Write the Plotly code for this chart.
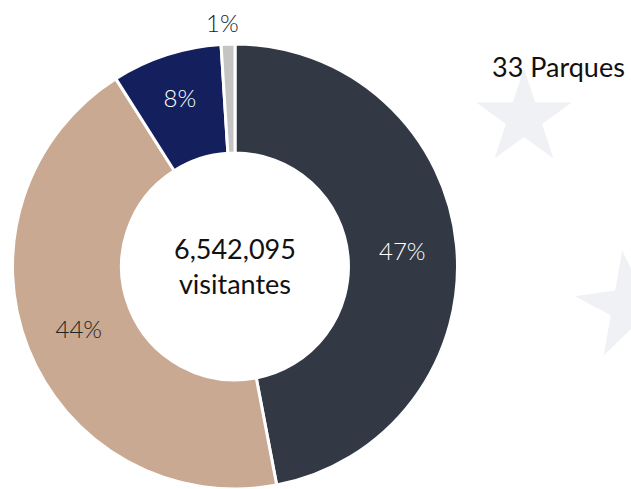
import math
import plotly.graph_objects as go

segmentos = ['Segmento A', 'Segmento B', 'Segmento C', 'Segmento D']
porcentajes = [47, 44, 8, 1]
colores = ['#323945', '#c9a992', '#14205e', '#c4c4c4']
texto_color = ['white', '#222222', 'white', '#222222']
total_visitantes = '6,542,095'
parques = 33

W, H = 631, 489


def px(x, y):
    return x / W, 1 - y / H


def star_path(cx, cy, r, rot=0.0):
    pts = []
    for i in range(10):
        rr = r if i % 2 == 0 else r * 0.382
        a = math.radians(90 + rot + i * 36)
        x, y = px(cx + rr * math.cos(a), cy - rr * math.sin(a))
        pts.append(f'{x:.4f},{y:.4f}')
    return 'M' + ' L'.join(pts) + ' Z'


fig = go.Figure()

x0, y_top = px(235 - 224, 268 - 224)
x1, _ = px(235 + 224, 0)
fig.add_trace(go.Pie(
    labels=segmentos,
    values=porcentajes,
    hole=0.51,
    sort=False,
    direction='clockwise',
    rotation=0,
    marker=dict(colors=colores, line=dict(color='white', width=3)),
    texttemplate='%{percent:.0%}',
    textposition=['inside', 'inside', 'inside', 'none'],
    insidetextorientation='horizontal',
    textfont=dict(family='Lato', size=24, weight=300, color=texto_color),
    showlegend=False,
    domain=dict(x=[x0, x1], y=[0, y_top]),
))

# the thin slice gets its label above the ring
lx, ly = px(222, 22)
fig.add_annotation(
    x=lx, y=ly, xref='paper', yref='paper', xanchor='center', yanchor='middle',
    text=f'{porcentajes[3]}%',
    showarrow=False,
    font=dict(family='Lato', size=24, weight=300, color='#222222'),
)

cx, cy = px(235, 266)
fig.add_annotation(
    x=cx, y=cy, xref='paper', yref='paper', xanchor='center', yanchor='middle',
    text=f'{total_visitantes}<br>visitantes',
    showarrow=False,
    font=dict(family='Lato', size=27, color='#111111'),
)

tx, ty = px(558, 66)
fig.add_annotation(
    x=tx, y=ty, xref='paper', yref='paper', xanchor='center', yanchor='middle',
    text=f'{parques} Parques',
    showarrow=False,
    font=dict(family='Lato', size=27, color='#111111'),
)

fig.update_layout(
    width=W,
    height=H,
    margin=dict(l=0, r=0, t=0, b=0),
    paper_bgcolor='white',
    plot_bgcolor='white',
    shapes=[
        dict(type='path', path=star_path(524, 118, 50), xref='paper', yref='paper',
             fillcolor='#f0f1f5', line=dict(width=0), layer='below'),
        dict(type='path', path=star_path(630, 306, 56, 8), xref='paper', yref='paper',
             fillcolor='#f0f1f5', line=dict(width=0), layer='below'),
    ],
)

# drop the default 8px page margin so the figure sits at the window corner
fig.write_html('out.html', config={'displayModeBar': False},
               post_script="document.body.style.margin='0';")
